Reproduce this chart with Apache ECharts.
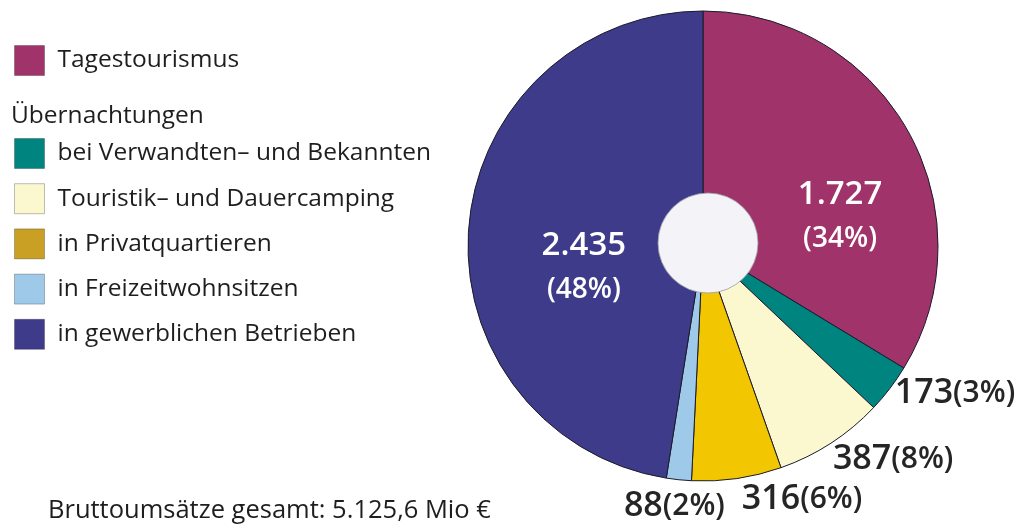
<!DOCTYPE html>
<html><head><meta charset="utf-8">
<script src="https://cdn.jsdelivr.net/npm/echarts@6/dist/echarts.min.js"></script>
<style>html,body{margin:0;padding:0;background:#fff}#c{width:1025px;height:526px}</style>
</head><body><div id="c"></div>
<script>
const categories = ['Tagestourismus','bei Verwandten– und Bekannten','Touristik– und Dauercamping','in Privatquartieren','in Freizeitwohnsitzen','in gewerblichen Betrieben'];
const values = [1727, 173, 387, 316, 88, 2435];
const percentLabels = ['34%','3%','8%','6%','2%','48%'];
const sliceColors = ['#a0336a','#00847f','#fbf8cf','#f2c600','#9fc9e9','#3e3c8a'];
const legendColors = ['#a0336a','#00847f','#fbf8cf','#c9a024','#9fc9e9','#3e3c8a'];
const legendHeader = 'Übernachtungen';
const totalText = 'Bruttoumsätze gesamt: 5.125,6 Mio €';

const FONT = '"Open Sans", "Noto Sans", sans-serif';
function fmt(v){ return String(v).replace(/\B(?=(\d{3})+(?!\d))/g, '.'); }

const insideIdx = {0: [32, 30], 5: [1, 31]};
const outsideOff = {1: [0, 5], 2: [-3, 16], 3: [0, 21], 4: [51, 27]};

const data = values.map((v, i) => {
  const d = {name: categories[i], value: v, itemStyle: {color: sliceColors[i]}};
  if (insideIdx[i]) {
    d.label = {position: 'inside', offset: insideIdx[i],
      formatter: () => '{n|' + fmt(v) + '}\n{p|(' + percentLabels[i] + ')}',
      rich: {
        n: {fontFamily: FONT, fontSize: 33, fontWeight: 600, color: '#fff', lineHeight: 44, align: 'center'},
        p: {fontFamily: FONT, fontSize: 28, fontWeight: 600, color: '#fff', lineHeight: 44, align: 'center'}
      }};
  } else {
    d.label = {position: 'outside', offset: outsideOff[i],
      formatter: () => '{n|' + fmt(v) + '}{p|(' + percentLabels[i] + ')}',
      rich: {
        n: {fontFamily: FONT, fontSize: 34, fontWeight: 600, color: '#252525'},
        p: {fontFamily: FONT, fontSize: 30, fontWeight: 600, color: '#252525'}
      }};
  }
  return d;
});

function legendData(idx){
  return idx.map(i => ({name: categories[i], itemStyle: {color: legendColors[i], borderColor: 'rgba(0,0,0,0.25)', borderWidth: 1}}));
}

const legendText = {fontFamily: FONT, fontSize: 24.5, fontWeight: 500, color: '#1e1e1e', padding: [0,0,0,8]};
const chart = echarts.init(document.getElementById('c'), null, {renderer: 'canvas'});
chart.setOption({
  animation: false,
  title: {text: totalText, left: 43, top: 493, padding: 5, textStyle: {fontFamily: FONT, fontSize: 25.5, fontWeight: 500, color: '#1e1e1e'}},
  legend: [
    {orient: 'vertical', left: 14, top: 45, padding: 0, itemWidth: 30, itemHeight: 30, itemGap: 14, icon: 'rect', selectedMode: false,
     data: legendData([0]), textStyle: legendText},
    {orient: 'vertical', left: 14, top: 138, padding: 0, itemWidth: 30, itemHeight: 30, itemGap: 14.2, icon: 'rect', selectedMode: false,
     data: legendData([1,2,3,4,5]), textStyle: legendText}
  ],
  graphic: [
    {type: 'text', left: 11, top: 104, z: 10, style: {text: legendHeader, font: '500 24.5px ' + FONT, fill: '#1e1e1e'}},
    {type: 'circle', z: 100, shape: {cx: 708, cy: 243, r: 50}, style: {fill: '#f4f4f8', stroke: '#9a9aa4', lineWidth: 0.8}}
  ],
  series: [{
    type: 'pie',
    center: [703, 246],
    radius: [0, 235],
    startAngle: 90,
    clockwise: true,
    avoidLabelOverlap: false,
    minShowLabelAngle: 0,
    itemStyle: {borderColor: '#1a1a2a', borderWidth: 1},
    labelLine: {show: false, length: 0, length2: 0},
    emphasis: {disabled: true},
    data: data
  }]
});
</script></body></html>
